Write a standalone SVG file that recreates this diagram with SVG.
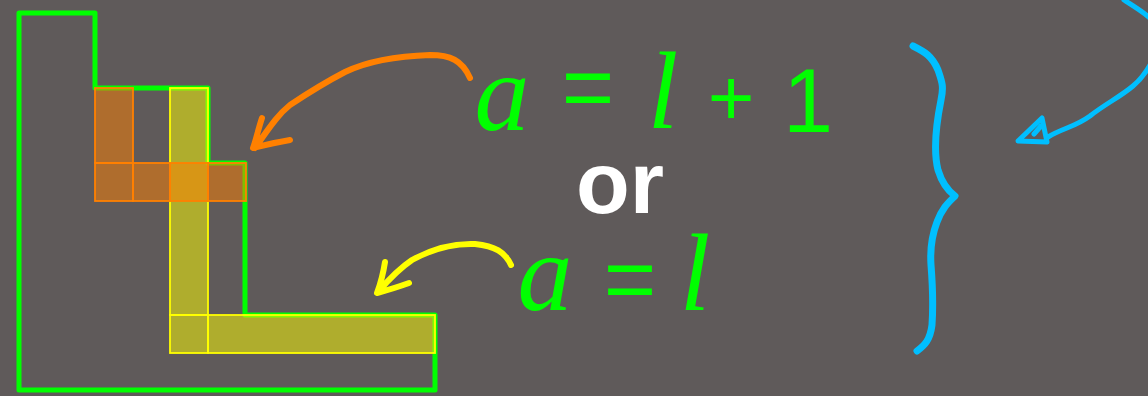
<svg xmlns="http://www.w3.org/2000/svg" width="1148" height="396" viewBox="0 0 1148 396">
<style>
.ink{fill:none;stroke-linecap:round;stroke-linejoin:round}
.outline{fill:none;stroke:#00ff00;stroke-width:5;stroke-linejoin:round}
.oc{fill:#ff8000;fill-opacity:0.5;stroke:#ff8000;stroke-width:1.8}
.yc{fill:#ffff00;fill-opacity:0.5;stroke:#ffff00;stroke-width:1.8}
.g{fill:#00ff00}
.var{font-family:"Liberation Serif","DejaVu Serif",serif;font-style:italic;font-size:110px;text-anchor:middle}
.op{font-family:"Liberation Sans","DejaVu Sans",sans-serif;font-size:90px;text-anchor:middle}
</style>
<rect width="1148" height="396" fill="#5f5a5a"/>
<g id="l-shape">
<path class="outline" d="M19 13H95V88H208V163H245V315H435V390H19Z"/>
</g>
<g id="yellow-cells">
<rect class="yc" x="170" y="88" width="38" height="227"/>
<rect class="yc" x="170" y="315" width="38" height="38"/>
<rect class="yc" x="208" y="315" width="227" height="38"/>
</g>
<g id="orange-cells">
<rect class="oc" x="95" y="88" width="38" height="75"/>
<rect class="oc" x="95" y="163" width="38" height="38"/>
<rect class="oc" x="133" y="163" width="37" height="38"/>
<rect class="oc" x="170" y="163" width="38" height="38"/>
<rect class="oc" x="208" y="163" width="38" height="38"/>
</g>
<g id="eq1" class="g">
<text class="var" x="502" y="130">a</text>
<text class="op" x="588" y="118">=</text>
<text class="var" x="663" y="128">l</text>
<text class="op" x="731" y="125" style="font-size:80px">+</text>
<text class="op" x="808" y="132">1</text>
</g>
<g id="or">
<text x="620" y="213" fill="#ffffff" style="font-family:'Liberation Sans','DejaVu Sans',sans-serif;font-weight:bold;font-size:88px;text-anchor:middle">or</text>
</g>
<g id="eq2" class="g">
<text class="var" x="545" y="310">a</text>
<text class="op" x="630" y="310">=</text>
<text class="var" x="695" y="310">l</text>
</g>
<g id="brace">
<path class="ink" stroke="#00bfff" stroke-width="7" d="M913 46C925 52 932 56 938 70C942 82 944 86 941 100C936 125 933 150 938 170C942 183 947 190 955 196C949 202 942 208 937 222C932 235 930 250 931 265C933 290 933 310 932 325C930 340 925 345 917 351"/>
</g>
<g id="connectors">
<path class="ink" stroke="#00bfff" stroke-width="5" d="M1124 0C1140 10 1160 22 1160 35C1158 55 1146 75 1133 86C1120 97 1105 104 1090 116C1075 127 1063 128 1048 137M1018 141L1042 118L1047 142ZM1034 134L1041 126"/>
<path class="ink" stroke="#ff8000" stroke-width="6" d="M470 78C462 60 450 55 430 55C400 56 370 60 345 72C320 85 305 95 290 105C280 113 273 122 255 148M262 118C258 130 256 140 253 148C265 145 278 142 290 140"/>
<path class="ink" stroke="#ffff00" stroke-width="6" d="M511 265C505 252 495 246 475 244C450 243 430 250 412 260C400 268 390 278 378 292M385 262C383 275 380 285 377 293C388 290 398 287 409 283"/>
</g>
</svg>
